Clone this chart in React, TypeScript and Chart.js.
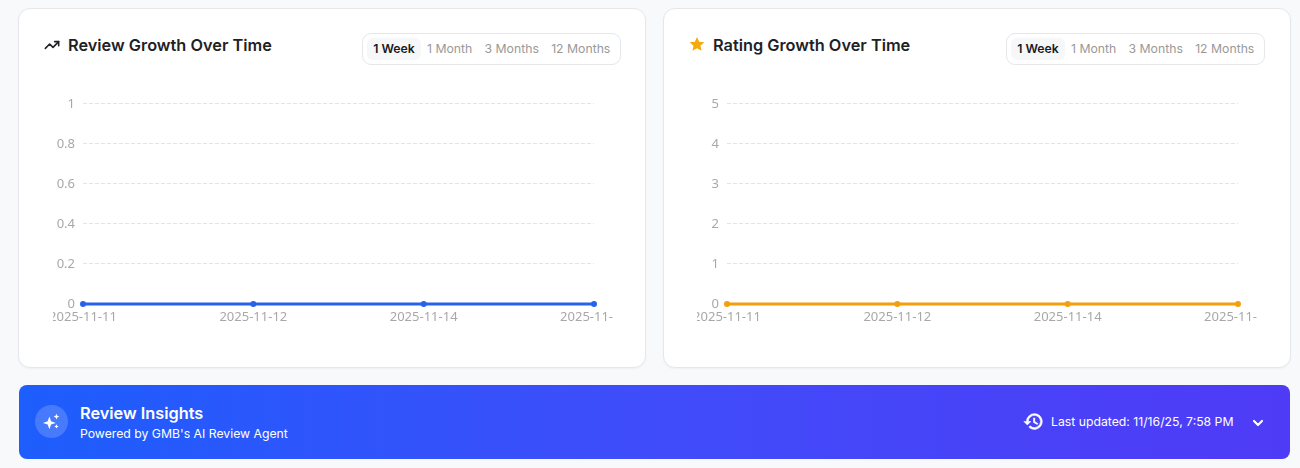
import { useEffect, useRef } from "react";
import { Chart, registerables } from "chart.js";
import type { CSSProperties, ReactNode } from "react";

Chart.register(...registerables);

const dateLabels = ["2025-11-11", "2025-11-12", "2025-11-14", "2025-11-16"];
const reviewCounts = [0, 0, 0, 0];
const ratingValues = [0, 0, 0, 0];
const rangeOptions = ["1 Week", "1 Month", "3 Months", "12 Months"];

const UI_FONT = "Inter, 'Noto Sans', sans-serif";

type GrowthChartProps = {
  values: number[];
  color: string;
  max: number;
  step: number;
  left: number;
};

function GrowthChart({ values, color, max, step, left }: GrowthChartProps) {
  const chartRef = useRef<HTMLCanvasElement | null>(null);

  useEffect(() => {
    if (!chartRef.current) return;

    const chartInstance = new Chart(chartRef.current, {
      type: "line",
      data: {
        labels: dateLabels,
        datasets: [
          {
            data: values,
            borderColor: color,
            backgroundColor: color,
            borderWidth: 3,
            pointRadius: 3,
            pointBorderWidth: 0,
            pointHoverRadius: 3,
            clip: false,
          },
        ],
      },
      options: {
        animation: false,
        responsive: false,
        maintainAspectRatio: false,
        layout: { padding: { left: 0, right: 20, top: 8, bottom: 0 } },
        plugins: { legend: { display: false }, tooltip: { enabled: false } },
        scales: {
          x: {
            offset: false,
            grid: { display: false },
            border: { display: false },
            ticks: {
              autoSkip: false,
              maxRotation: 0,
              padding: -3,
              color: "#a8a8a8",
              font: { family: "'Noto Sans', sans-serif", size: 13 },
            },
            afterFit: (scale: any) => {
              // long labels run off the canvas and get cut, like the original
              scale.paddingLeft = 0;
              scale.paddingRight = 0;
              scale.height = 37;
            },
          },
          y: {
            min: 0,
            max,
            grid: { color: "#e4e4e4", lineWidth: 1, drawTicks: false },
            border: { display: false, dash: [4, 2] },
            ticks: {
              stepSize: step,
              padding: 8,
              color: "#a8a8a8",
              font: { family: "'Noto Sans', sans-serif", size: 13 },
              callback: (value: any) => String(Number(value)),
            },
            afterFit: (scale: any) => {
              scale.width = 30;
            },
          },
        },
      },
    });

    return () => {
      chartInstance.destroy();
    };
  }, [values, color, max, step]);

  return (
    <canvas
      ref={chartRef}
      width={561}
      height={253}
      style={{ position: "absolute", left, top: 79, width: 561, height: 253 }}
    />
  );
}

function RangeToggle({ left }: { left: number }) {
  return (
    <div
      style={{
        position: "absolute",
        left,
        top: 24,
        height: 32,
        boxSizing: "border-box",
        border: "1px solid #e5e7eb",
        borderRadius: 9,
        padding: "4px",
        display: "flex",
        fontFamily: UI_FONT,
        fontSize: 12.24,
      }}
    >
      {rangeOptions.map((option, i) => (
        <span
          key={option}
          style={{
            padding: "0 6.15px",
            lineHeight: "22px",
            borderRadius: 6,
            whiteSpace: "nowrap",
            background: i === 0 ? "#f6f7f9" : "transparent",
            color: i === 0 ? "#1a1a1a" : "#999999",
            fontWeight: i === 0 ? 600 : 400,
          }}
        >
          {option}
        </span>
      ))}
    </div>
  );
}

type CardProps = {
  left: number;
  title: string;
  icon: ReactNode;
  toggleLeft: number;
  titleLeft: number;
  children: ReactNode;
};

function Card({ left, title, icon, toggleLeft, titleLeft, children }: CardProps) {
  const cardStyle: CSSProperties = {
    position: "absolute",
    left,
    top: 8,
    width: 628,
    height: 360,
    boxSizing: "border-box",
    background: "#ffffff",
    border: "1px solid #e5e7eb",
    borderRadius: 12,
    boxShadow: "0 1px 2px rgba(0,0,0,0.04)",
  };
  return (
    <div style={cardStyle}>
      {icon}
      <div
        style={{
          position: "absolute",
          left: titleLeft,
          top: 25,
          fontFamily: UI_FONT,
          fontSize: 16.32,
          fontWeight: 600,
          lineHeight: "22px",
          color: "#1f2125",
          whiteSpace: "nowrap",
        }}
      >
        {title}
      </div>
      <RangeToggle left={toggleLeft} />
      {children}
    </div>
  );
}

export default function App() {
  return (
    <div
      style={{
        position: "fixed",
        left: 0,
        top: 0,
        width: 1300,
        height: 468,
        overflow: "hidden",
        background: "#f8f9fb",
      }}
    >
      <Card
        left={18}
        title="Review Growth Over Time"
        titleLeft={49}
        toggleLeft={343}
        icon={
          <svg
            width="16"
            height="16"
            viewBox="0 0 24 24"
            fill="none"
            stroke="#1f2125"
            strokeWidth="2.4"
            strokeLinecap="round"
            strokeLinejoin="round"
            style={{ position: "absolute", left: 25, top: 28 }}
          >
            <path d="M2 17l6.5-6.5 5 5L22 7" />
            <path d="M16 7h6v6" />
          </svg>
        }
      >
        <GrowthChart values={reviewCounts} color="#2563eb" max={1} step={0.2} left={33.5} />
      </Card>
      <Card
        left={663}
        title="Rating Growth Over Time"
        titleLeft={49}
        toggleLeft={342}
        icon={
          <svg
            width="16"
            height="16"
            viewBox="0 0 24 24"
            fill="#f5a90a"
            style={{ position: "absolute", left: 25, top: 27 }}
          >
            <path d="M12 1.5l3.2 7.1 7.8.8-5.8 5.2 1.6 7.7L12 18.4l-6.8 3.9 1.6-7.7L1 9.4l7.8-.8z" />
          </svg>
        }
      >
        <GrowthChart values={ratingValues} color="#f59e0b" max={5} step={1} left={32.5} />
      </Card>

      <div
        style={{
          position: "absolute",
          left: 19,
          top: 385,
          width: 1271,
          height: 74,
          borderRadius: 8,
          background: "linear-gradient(90deg, #1d5efc 0%, #404cfa 50%, #4f3bf6 100%)",
          color: "#ffffff",
          fontFamily: UI_FONT,
        }}
      >
        <div
          style={{
            position: "absolute",
            left: 16,
            top: 20,
            width: 33,
            height: 33,
            borderRadius: "50%",
            background: "rgba(255,255,255,0.18)",
          }}
        >
          <svg
            width="17"
            height="17"
            viewBox="0 0 24 24"
            fill="#ffffff"
            style={{ position: "absolute", left: 8, top: 8 }}
          >
            <path d="M9 5l2.4 6.6L18 14l-6.6 2.4L9 23l-2.4-6.6L0 14l6.6-2.4z" />
            <path d="M19 1l1.2 2.8L23 5l-2.8 1.2L19 9l-1.2-2.8L15 5l2.8-1.2z" />
            <path d="M19 16l1 2 2 1-2 1-1 2-1-2-2-1 2-1z" />
          </svg>
        </div>
        <div
          style={{
            position: "absolute",
            left: 61,
            top: 17,
            fontSize: 16.32,
            fontWeight: 600,
            lineHeight: "22px",
            whiteSpace: "nowrap",
          }}
        >
          Review Insights
        </div>
        <div
          style={{
            position: "absolute",
            left: 61,
            top: 40,
            fontSize: 12.24,
            lineHeight: "18px",
            whiteSpace: "nowrap",
          }}
        >
          Powered by GMB's AI Review Agent
        </div>
        <svg
          width="21"
          height="21"
          viewBox="0 0 24 24"
          fill="#ffffff"
          stroke="#ffffff"
          strokeWidth="0.7"
          style={{ position: "absolute", left: 1004, top: 26 }}
        >
          <path d="M13 3a9 9 0 0 0-9 9H1l3.9 3.9L9 12H6a7 7 0 1 1 2.05 4.95L6.63 18.37A9 9 0 1 0 13 3zm-1 5v5l4.3 2.5.75-1.23-3.55-2.1V8z" />
        </svg>
        <div
          style={{
            position: "absolute",
            left: 1032,
            top: 28,
            fontSize: 12.24,
            lineHeight: "18px",
            whiteSpace: "nowrap",
          }}
        >
          Last updated: 11/16/25, 7:58 PM
        </div>
        <svg
          width="16"
          height="16"
          viewBox="0 0 24 24"
          fill="none"
          stroke="#ffffff"
          strokeWidth="3.2"
          strokeLinecap="round"
          strokeLinejoin="round"
          style={{ position: "absolute", left: 1231, top: 30 }}
        >
          <path d="M6 9l6 6 6-6" />
        </svg>
      </div>
    </div>
  );
}
